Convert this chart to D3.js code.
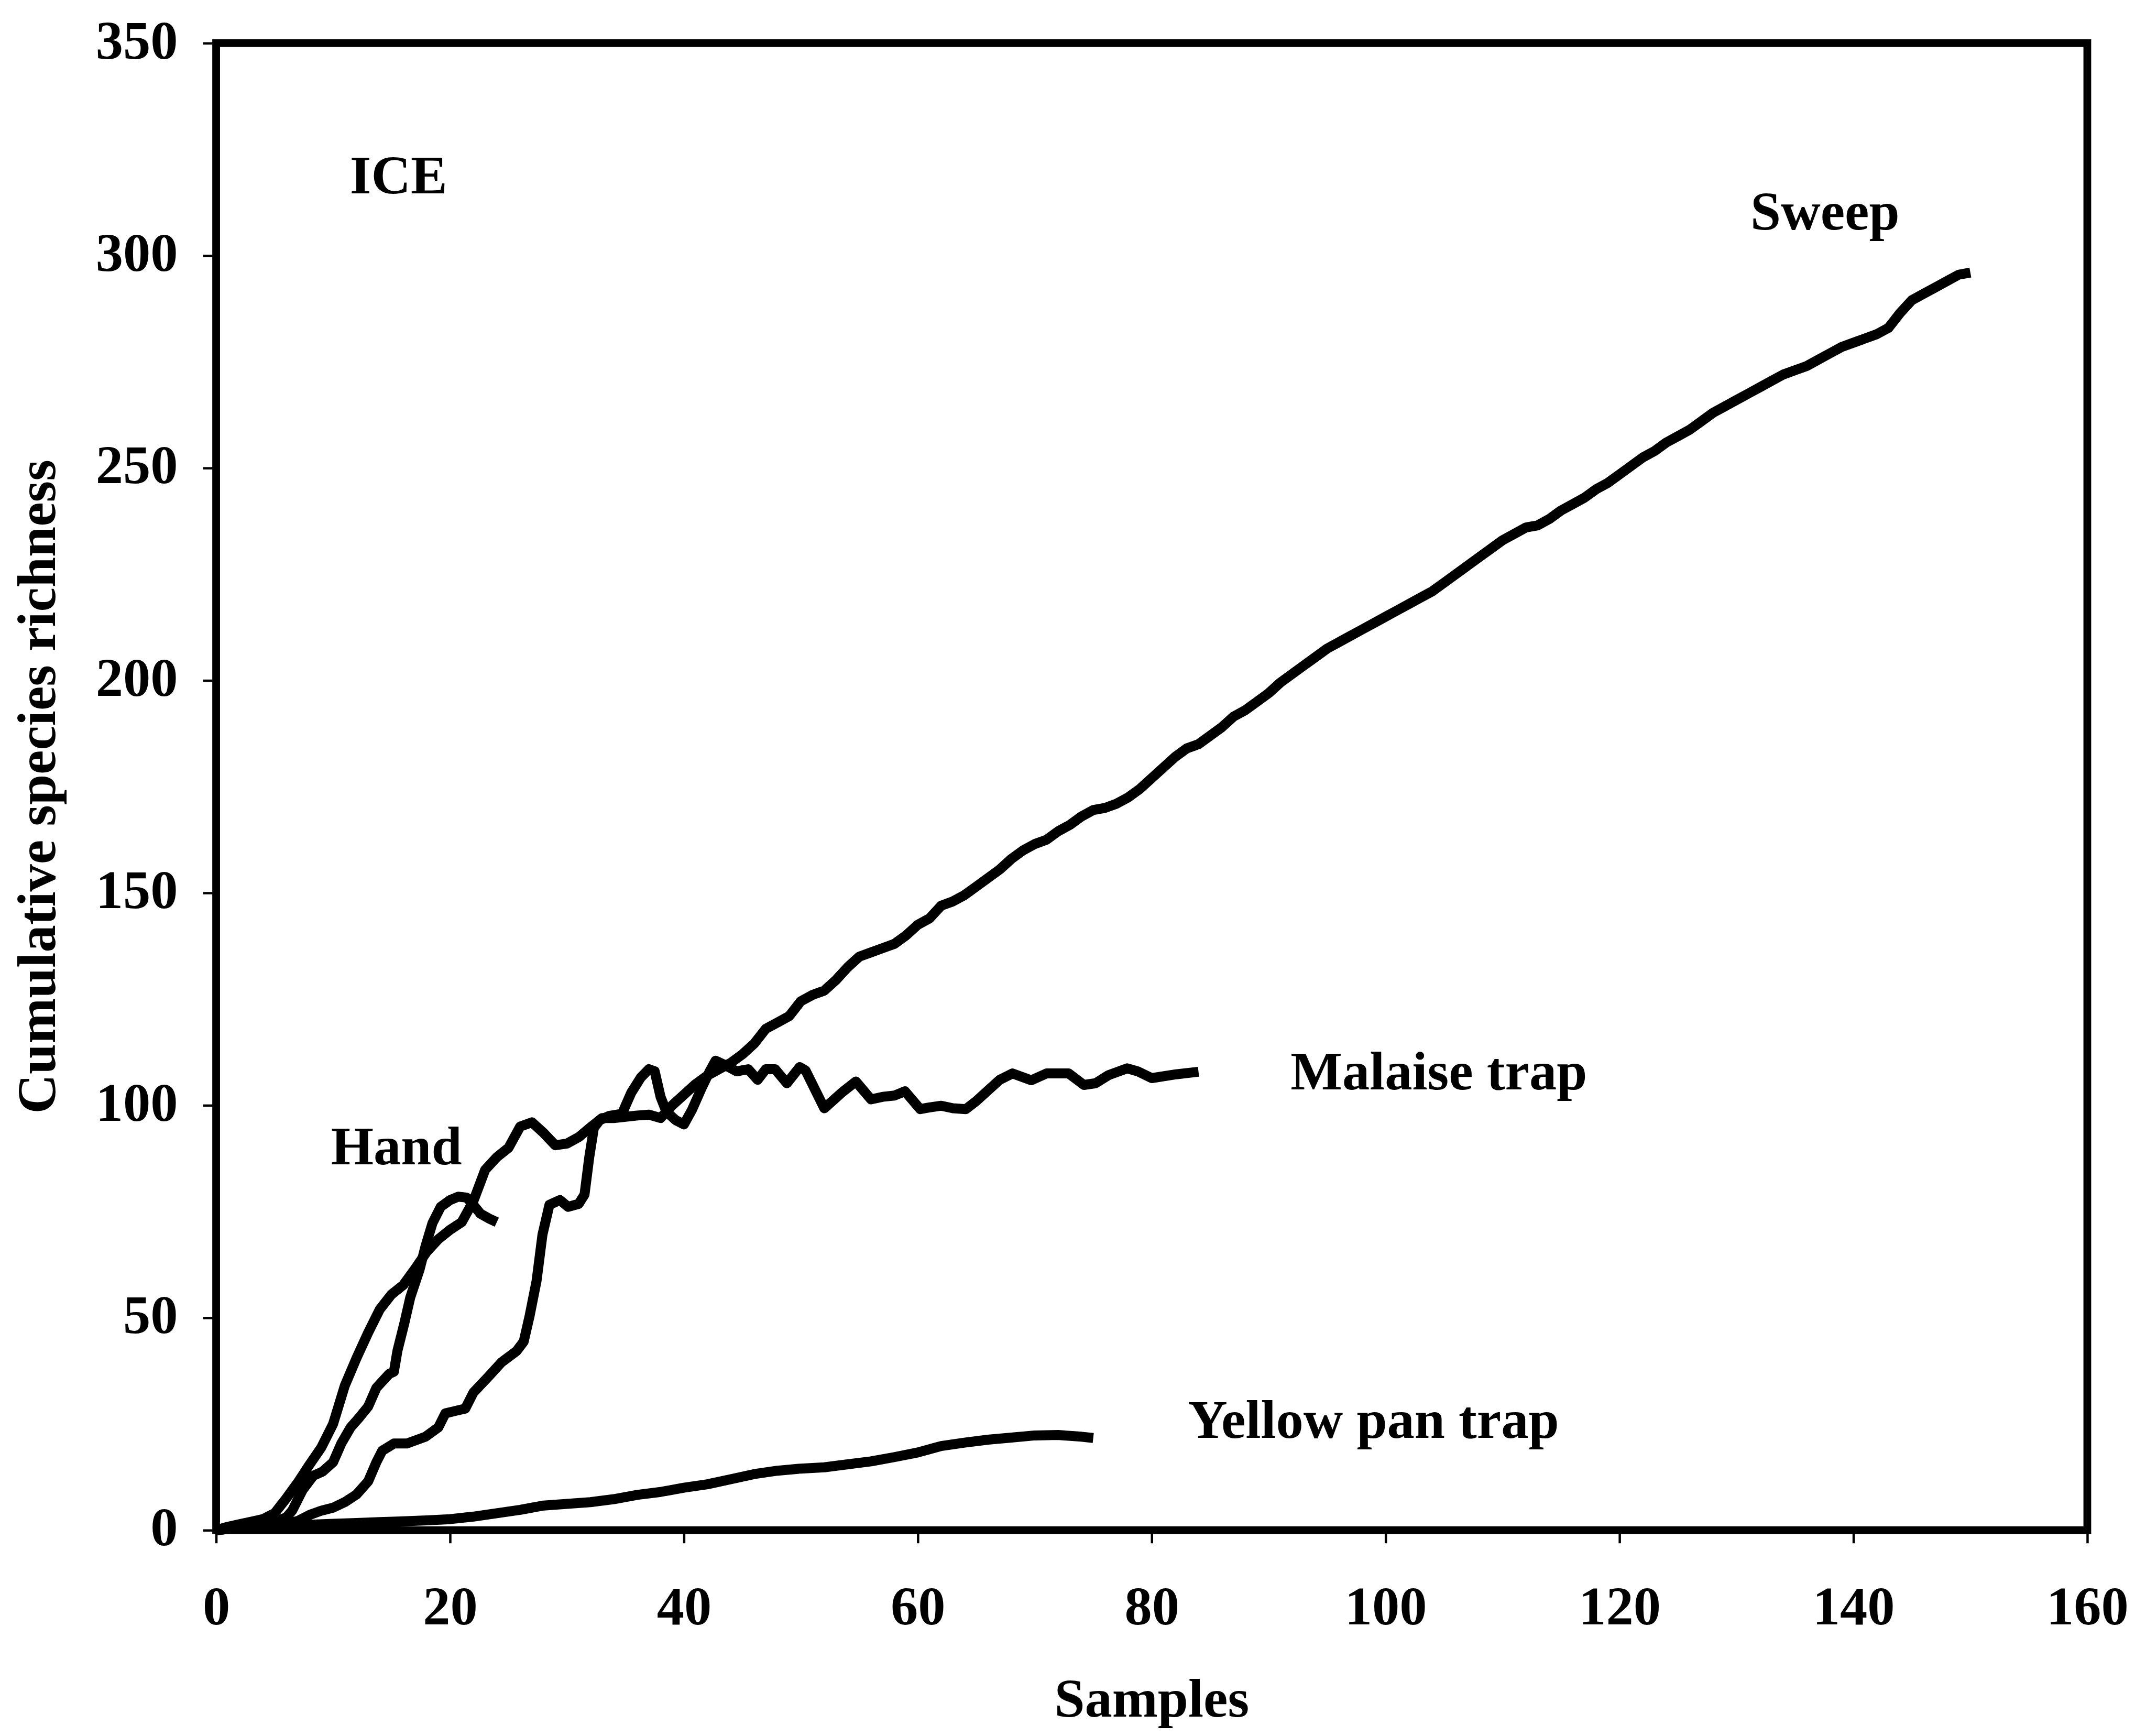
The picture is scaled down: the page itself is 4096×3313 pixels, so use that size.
<!DOCTYPE html>
<html>
<head>
<meta charset="utf-8">
<script src="https://cdn.jsdelivr.net/npm/d3@7"></script>
<style>
  html, body { margin: 0; padding: 0; background: #fff; }
  svg { display: block; }
</style>
</head>
<body>
<script>
// Cumulative species richness (ICE) against number of samples, four collecting methods.

// Sweep: one value per sample, sample number = position in the list (0..150)
const sweepRichness = [
  0, 0.8, 1.4, 2, 2.6, 4, 7.5, 11.3, 15.5, 19.5,
  25, 34, 40.5, 46.5, 52, 55.5, 57.7, 61.5, 65.5, 68.5,
  70.7, 72.5, 77.5, 84.8, 87.8, 90, 95, 96, 93.5, 90.6,
  91, 92.5, 94.8, 97, 97, 97.3, 97.6, 97.8, 97, 100,
  102.5, 105, 107, 108.5, 110, 112, 114.5, 118, 119.5, 121,
  124.5, 126, 127, 129.5, 132.5, 135, 136, 137, 138, 140,
  142.5, 144, 147, 148, 149.5, 151.5, 153.5, 155.5, 158, 160,
  161.5, 162.5, 164.5, 166, 168, 169.5, 170, 171, 172.5, 174.5,
  177, 179.5, 182, 184, 185, 187, 189, 191.5, 193, 195,
  197, 199.5, 201.5, 203.5, 205.5, 207.5, 209, 210.5, 212, 213.5,
  215, 216.5, 218, 219.5, 221, 223, 225, 227, 229, 231,
  233, 234.5, 236, 236.5, 238, 240, 241.5, 243, 245, 246.5,
  248.5, 250.5, 252.5, 254, 256, 257.5, 259, 261, 263, 264.5,
  266, 267.5, 269, 270.5, 272, 273, 274, 275.5, 277, 278.5,
  279.5, 280.5, 281.5, 283, 286.5, 289.5, 291, 292.5, 294, 295.5,
  296
];

// [samples, richness]
const malaiseCurve = [
  [0,0],[1,0.3],[2,0.5],[3,0.7],[4,0.9],[5,1.1],[6,1.5],[7,2.2],[8,3.6],[9,4.6],
  [10,5.3],[11,6.6],[12,8.4],[13,11.5],[13.7,16],[14.2,18.7],[15.2,20.4],[16.3,20.4],
  [17.9,22],[19,24.2],[19.6,27.5],[20.5,28.1],[21.3,28.6],[22,32.4],[23.3,36.2],
  [24.4,39.5],[25.7,42.2],[26.3,44.4],[26.8,50.4],[27.4,58.7],[27.9,69.5],[28.5,76.6],
  [29.4,77.7],[30.1,76.1],[31,76.8],[31.5,79],[31.9,87.7],[32.3,94.7],[32.8,96.5],
  [33.6,97.5],[34.7,98],[35.5,103],[36.3,106.5],[37,108.5],[37.5,108],[38,102],
  [38.5,98.5],[39.3,96.5],[40,95.5],[40.7,99],[41.5,104],[42.2,108],[42.7,110.5],
  [43.5,109.5],[44.5,108],[45.5,108.5],[46.3,106],[47,108.5],[47.8,108.5],[48.8,105.2],
  [49.9,109],[50.4,108.2],[52,99.3],[53.5,103],[54.7,105.6],[56,101.4],[57,102],
  [58,102.3],[58.9,103.3],[60.2,99.1],[61,99.5],[62,99.9],[63,99.3],[64.1,99.1],
  [65,101],[65.8,103],[67,106],[68.1,107.5],[69.7,105.9],[71,107.5],[72.9,107.5],
  [74.2,104.8],[75.2,105.2],[76.3,107.1],[77.9,108.7],[78.8,108],[80,106.4],
  [82.1,107.3],[84,107.9]
];

const handCurve = [
  [0,0],[1,0.3],[2,0.6],[3,0.9],[4,1.3],[5,2],[6,3],[6.5,4.6],[7.4,9.5],[8.3,12.8],
  [9.1,13.8],[10,16],[10.7,20.4],[11.5,24.2],[12.2,26.4],[13,29.1],[13.7,33.5],
  [14.8,36.8],[15.2,37.3],[15.5,42.2],[16.1,48.8],[16.6,54.8],[17.4,61.4],[17.9,66.8],
  [18.5,72.3],[19.2,76.1],[20,77.7],[20.7,78.5],[21.4,78.3],[21.8,77.2],[22.6,74.5],
  [23.3,73.4],[24,72.5]
];

const yellowPanCurve = [
  [0,0],[2,0.6],[4,0.9],[6,1.1],[8,1.3],[10,1.5],[12,1.7],[14,1.9],[16,2.1],[18,2.3],
  [20,2.6],[22,3.2],[24,4],[26,4.8],[28,5.8],[30,6.2],[32,6.6],[34,7.3],[36,8.3],
  [38,9],[40,10],[42,10.8],[44,12],[46,13.2],[48,14],[50,14.5],[52,14.8],[54,15.5],
  [56,16.2],[58,17.2],[60,18.3],[62,19.8],[64,20.6],[66,21.3],[68,21.8],[70,22.3],
  [72,22.4],[74,22],[75,21.7]
];

const xTicks = [0, 20, 40, 60, 80, 100, 120, 140, 160];
const yTicks = [0, 50, 100, 150, 200, 250, 300, 350];

const curveLabels = [
  { text: "ICE", x: 722, y: 399 },
  { text: "Sweep", x: 3612, y: 474 },
  { text: "Malaise trap", x: 2663, y: 2248 },
  { text: "Hand", x: 683, y: 2402 },
  { text: "Yellow pan trap", x: 2451, y: 2967 }
];

const W = 4096, H = 3313, K = 0.925;
const FONT = "'Liberation Serif', 'Times New Roman', Times, serif";
const FS = 113 * K;

const svg = d3.select("body").append("svg")
  .attr("width", W).attr("height", H)
  .attr("viewBox", `0 0 ${W} ${H}`);

const x = d3.scaleLinear().domain([0, 160]).range([446 * K, 4307 * K]);
const y = d3.scaleLinear().domain([0, 350]).range([3157 * K, 89 * K]);

// curves
const line = d3.line().x(d => x(d[0])).y(d => y(d[1]));
const sweepCurve = sweepRichness.map((v, i) => [i, v]);
const series = [yellowPanCurve, malaiseCurve, handCurve, sweepCurve];

svg.append("g").selectAll("path")
  .data(series)
  .join("path")
  .attr("d", line)
  .attr("fill", "none")
  .attr("stroke", "#000")
  .attr("stroke-width", 19)
  .attr("stroke-linejoin", "round")
  .attr("stroke-linecap", "butt");

// axes
const tickLen = 27 * K;

const gy = svg.append("g")
  .attr("transform", `translate(${x(0)},0)`)
  .call(d3.axisLeft(y).tickValues(yTicks).tickSize(tickLen).tickPadding((446 - 367) * K - tickLen));
gy.select(".domain").remove();
gy.selectAll(".tick line").attr("stroke", "#000").attr("stroke-width", 4.5);
gy.selectAll(".tick text")
  .attr("dy", null)
  .attr("y", 31 * K)
  .attr("fill", "#000")
  .attr("font-family", FONT).attr("font-weight", "bold").attr("font-size", FS);

const gx = svg.append("g")
  .attr("transform", `translate(0,${y(0)})`)
  .call(d3.axisBottom(x).tickValues(xTicks).tickSize(tickLen));
gx.select(".domain").remove();
gx.selectAll(".tick line").attr("stroke", "#000").attr("stroke-width", 4.5);
gx.selectAll(".tick text")
  .attr("dy", null)
  .attr("y", (3351 - 3157) * K)
  .attr("fill", "#000")
  .attr("font-family", FONT).attr("font-weight", "bold").attr("font-size", FS);

// plot frame
svg.append("rect")
  .attr("x", x(0)).attr("y", y(350))
  .attr("width", x(160) - x(0)).attr("height", y(0) - y(350))
  .attr("fill", "none").attr("stroke", "#000").attr("stroke-width", 16 * K);

// axis titles
svg.append("text")
  .attr("x", (x(0) + x(160)) / 2).attr("y", 3542 * K)
  .attr("text-anchor", "middle")
  .attr("font-family", FONT).attr("font-weight", "bold").attr("font-size", FS)
  .text("Samples");

svg.append("text")
  .attr("transform", `translate(${113 * K},${(y(0) + y(350)) / 2}) rotate(-90)`)
  .attr("text-anchor", "middle")
  .attr("font-family", FONT).attr("font-weight", "bold").attr("font-size", FS)
  .text("Cumulative species richness");

// curve labels
svg.append("g").selectAll("text")
  .data(curveLabels)
  .join("text")
  .attr("x", d => d.x * K).attr("y", d => d.y * K)
  .attr("font-family", FONT).attr("font-weight", "bold").attr("font-size", FS)
  .text(d => d.text);
</script>
</body>
</html>
